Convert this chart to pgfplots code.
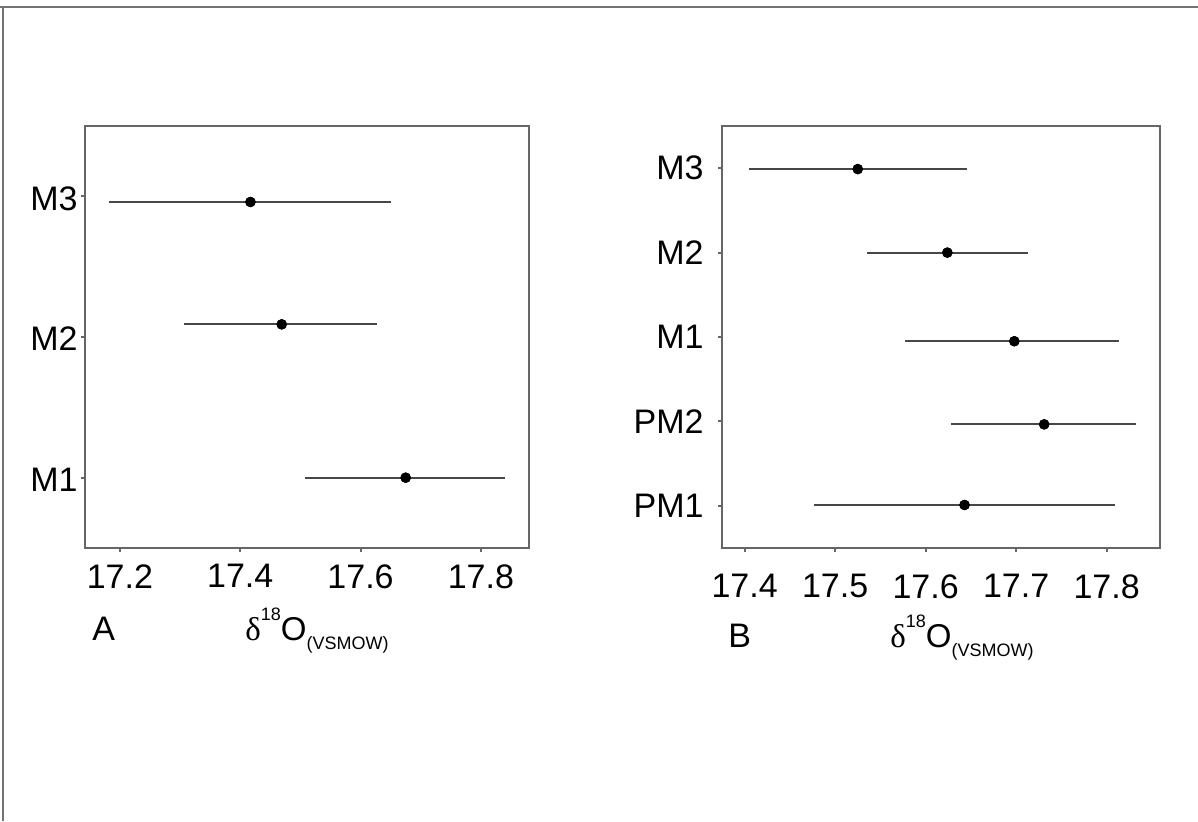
\documentclass[border=0pt]{standalone}
\usepackage{pgfplots}
\pgfplotsset{compat=1.18}
\usepackage{pgfplotstable}
\usepackage{fontspec}
\setmainfont{Liberation Sans}
\newfontfamily\seriffont{Liberation Serif}

\pgfplotstableread{
y    x      lo     hi
1.00 17.675 17.507 17.840
2.09 17.469 17.307 17.627
2.96 17.417 17.182 17.650
}\dataA

\pgfplotstableread{
y    x      lo     hi
1.01 17.643 17.477 17.809
1.965 17.731 17.628 17.833
2.95 17.698 17.577 17.814
4.00 17.624 17.535 17.713
4.99 17.525 17.405 17.646
}\dataB

\newcommand{\dlabel}{{\seriffont δ}\raisebox{0.6em}{\fontsize{9}{10}\selectfont 18}O\raisebox{-0.3em}{\fontsize{9}{10}\selectfont (VSMOW)}}

\pgfplotsset{
  common/.style={
    scale only axis,
    anchor=south west,
    height=211pt,
    axis line style={black!60, line width=1pt},
    tick style={black!60, line width=1pt},
    tick align=outside,
    major tick length=2pt,
    xtick pos=left, ytick pos=left,
    /pgf/number format/assume math mode=true,
    tick label style={font=\fontsize{17}{19}\selectfont, black},
    xticklabel style={anchor=north, inner sep=0pt},
    yticklabel style={anchor=east, inner sep=0pt},
    clip=false,
  },
  ebar/.style={only marks, mark=*, mark size=2.4pt, black,
    error bars/.cd, x dir=both, x explicit, error mark=none,
    error bar style={line width=0.9pt, black!72}},
  dots/.style={only marks, mark=*, mark size=2.4pt, black},
}

\begin{document}
\begin{tikzpicture}
\useasboundingbox (0pt,0pt) rectangle (599pt,-410.5pt);
\draw[black!55, line width=1pt] (0pt,-3.5pt) -- (599pt,-3.5pt);
\draw[black!55, line width=0.6pt] (1.5pt,-3.5pt) -- (1.5pt,-410.5pt);

\begin{axis}[common,
  at={(42.5pt,-274pt)}, width=222pt,
  xmin=17.142, xmax=17.880, ymin=0.5, ymax=3.5,
  xtick={17.2,17.4,17.6,17.8}, xticklabels={17.2,17.4,17.6,17.8},
  ytick={1,2,3}, yticklabels={M1,M2,M3},
  xticklabel style={yshift=-6pt},
  yticklabel style={xshift=-1.5pt, yshift=-1pt},
  xlabel={\dlabel},
  xlabel style={at={(axis description cs:0.5,0)}, anchor=base, yshift=-46pt, xshift=5pt, inner sep=0pt, font=\fontsize{16.5}{18}\selectfont},
]
\addplot[ebar] table[x=x, y=y, x error plus expr=\thisrow{hi}-\thisrow{x}, x error minus expr=\thisrow{x}-\thisrow{lo}] {\dataA};
\addplot[dots] table[x=x, y=y] {\dataA};
\end{axis}

\begin{axis}[common,
  at={(361pt,-274pt)}, width=219pt,
  xmin=17.375, xmax=17.859, ymin=0.5, ymax=5.5,
  xtick={17.4,17.5,17.6,17.7,17.8}, xticklabels={17.4,17.5,17.6,17.7,17.8},
  ytick={1,2,3,4,5}, yticklabels={PM1,PM2,M1,M2,M3},
  xticklabel style={yshift=-11pt},
  yticklabel style={xshift=-7pt},
  xlabel={\dlabel},
  xlabel style={at={(axis description cs:0.5,0)}, anchor=base, yshift=-49.5pt, xshift=10.5pt, inner sep=0pt, font=\fontsize{16.5}{18}\selectfont},
]
\addplot[ebar] table[x=x, y=y, x error plus expr=\thisrow{hi}-\thisrow{x}, x error minus expr=\thisrow{x}-\thisrow{lo}] {\dataB};
\addplot[dots] table[x=x, y=y] {\dataB};
\end{axis}

\node[anchor=base west, inner sep=0pt, font=\fontsize{17}{19}\selectfont] at (46pt,-320pt) {A};
\node[anchor=base west, inner sep=0pt, font=\fontsize{17}{19}\selectfont] at (364pt,-323.5pt) {B};
\end{tikzpicture}
\end{document}
